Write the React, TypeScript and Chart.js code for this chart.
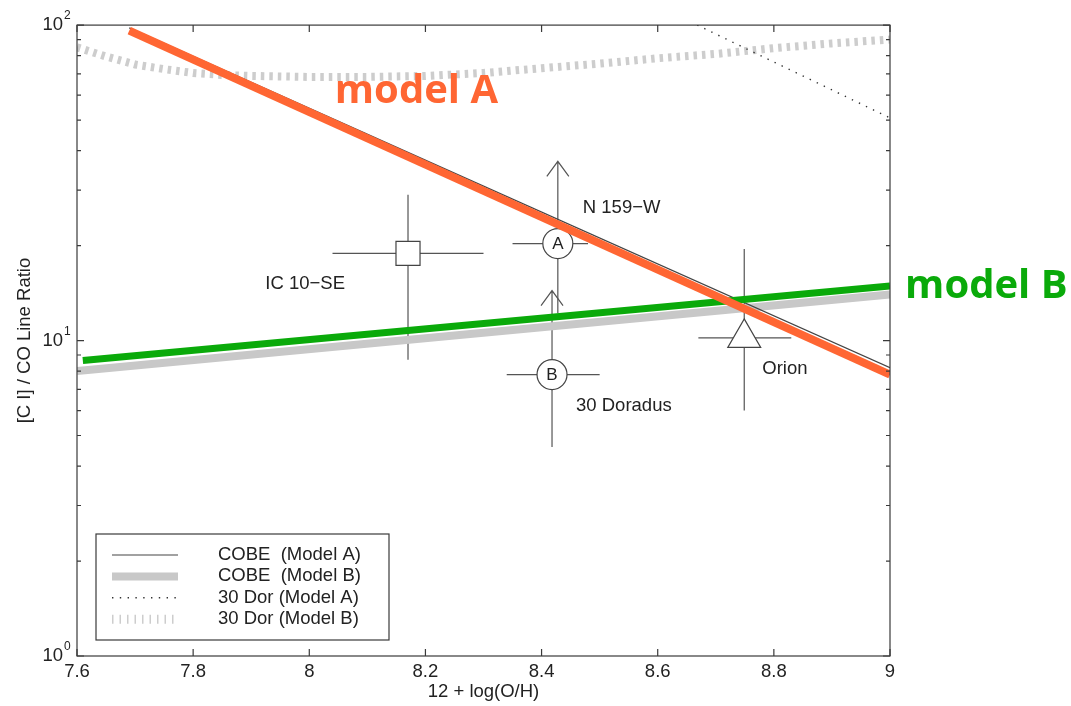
import React, { useEffect, useRef } from 'react';
import { Chart, registerables } from 'chart.js';

Chart.register(...registerables);

// ---------- data ----------
const X_TICKS = [7.6, 7.8, 8, 8.2, 8.4, 8.6, 8.8, 9];
const Y_MAJOR = [1, 10, 100];
const Y_EXPONENTS = ['0', '1', '2'];
const Y_MINOR = [2, 3, 4, 5, 6, 7, 8, 9, 20, 30, 40, 50, 60, 70, 80, 90];

const cobeA_x = [7.69, 9.0];
const cobeA_y = [98, 8.2];
const cobeB_x = [7.6, 9.0];
const cobeB_y = [8.0, 14.0];
const dorA_x = [8.668, 9.0];
const dorA_y = [100, 50.8];
const dorB_x = [7.6, 7.65, 7.7, 7.75, 7.8, 7.85, 7.9, 8.0, 8.1, 8.2, 8.3, 8.4, 8.5, 8.6, 8.7, 8.8, 8.9, 9.0];
const dorB_y = [85, 79.5, 75, 72.5, 70.5, 69.5, 69, 68.5, 68.5, 69, 70.5, 73, 75.5, 78.5, 81, 84.5, 87.5, 90];
const modelA_x = [7.69, 9.0];
const modelA_y = [96, 7.8];
const modelB_x = [7.61, 9.0];
const modelB_y = [8.65, 14.9];

const sourceNames = ['IC 10\u2212SE', 'N 159\u2212W', '30 Doradus', 'Orion'];
const sourceLetters = ['', 'A', 'B', ''];
const sourceX = [8.17, 8.428, 8.418, 8.749];
const sourceY = [18.9, 20.3, 7.8, 10.2];
const sourceXLo = [8.04, 8.35, 8.34, 8.67];
const sourceXHi = [8.30, 8.48, 8.50, 8.83];
const sourceYLo = [8.7, 12.2, 4.6, 6.0];
const sourceYHi = [29, 37, 14.4, 19.5];
const sourceUpperLimit = [false, true, true, false];

// ---------- styles ----------
const FONT = '"Liberation Sans", Arial, sans-serif';
const TEXT = '#222';
const AXIS = '#3a3a3a';
const ORANGE = '#ff6633';
const GREEN = '#0aaa0a';
const markerStyles = ['rect', 'circle', 'circle', 'triangle'];
const markerRadius = [17, 15, 15, 19];
// label placement relative to marker: [dx, dy, align]
const labelOffsets: [number, number, CanvasTextAlign][] = [
  [-63, 31, 'right'],
  [25, -36, 'left'],
  [24, 31, 'left'],
  [18, 31, 'left'],
];

const xy = (xs: number[], ys: number[]) => xs.map((x, i) => ({ x, y: ys[i] }));

export default function App() {
  const ref = useRef<HTMLCanvasElement | null>(null);

  useEffect(() => {
    document.body.style.margin = '0';
    const canvas = ref.current;
    if (!canvas) return;

    const lineDs = (label: string, xs: number[], ys: number[], color: string, width: number, dash: number[], order: number, legend: boolean) => ({
      type: 'line' as const,
      label,
      data: xy(xs, ys),
      showLine: true,
      borderColor: color,
      backgroundColor: color,
      borderWidth: width,
      borderDash: dash,
      pointRadius: 0,
      fill: false,
      tension: 0,
      order,
      inLegend: legend,
    });

    const datasets: any[] = [
      lineDs('COBE  (Model A)', cobeA_x, cobeA_y, '#444', 1.2, [], 3, true),
      lineDs('COBE  (Model B)', cobeB_x, cobeB_y, '#c8c8c8', 8, [], 4, true),
      lineDs('30 Dor (Model A)', dorA_x, dorA_y, '#333', 1.4, [1.4, 6.4], 5, true),
      lineDs('30 Dor (Model B)', dorB_x, dorB_y, '#cdcdcd', 8, [3.5, 5], 6, true),
      lineDs('model A', modelA_x, modelA_y, ORANGE, 8, [], 0, false),
      lineDs('model B', modelB_x, modelB_y, GREEN, 7, [], 1, false),
    ];
    sourceNames.forEach((name, i) => {
      datasets.push({
        type: 'scatter',
        label: name,
        data: [{ x: sourceX[i], y: sourceY[i] }],
        showLine: false,
        pointStyle: markerStyles[i],
        pointRadius: markerRadius[i],
        pointBackgroundColor: '#fff',
        pointBorderColor: '#444',
        pointBorderWidth: 1.2,
        order: 2,
      });
    });

    const decor = {
      id: 'decor',
      beforeDatasetsDraw(chart: any) {
        const { ctx, scales } = chart;
        const xs = scales.x, ys = scales.y;
        ctx.save();
        ctx.strokeStyle = '#555';
        ctx.lineWidth = 1.2;
        sourceNames.forEach((_, i) => {
          const px = xs.getPixelForValue(sourceX[i]);
          const py = ys.getPixelForValue(sourceY[i]);
          const x0 = xs.getPixelForValue(sourceXLo[i]);
          const x1 = xs.getPixelForValue(sourceXHi[i]);
          const y0 = ys.getPixelForValue(sourceYLo[i]);
          const y1 = ys.getPixelForValue(sourceYHi[i]);
          ctx.beginPath();
          ctx.moveTo(x0, py); ctx.lineTo(x1, py);
          ctx.moveTo(px, y0); ctx.lineTo(px, y1);
          if (sourceUpperLimit[i]) {
            ctx.moveTo(px - 11, y1 + 15); ctx.lineTo(px, y1); ctx.lineTo(px + 11, y1 + 15);
          }
          ctx.stroke();
        });
        ctx.restore();
      },
      afterDatasetsDraw(chart: any) {
        const { ctx, scales } = chart;
        const xs = scales.x, ys = scales.y;
        ctx.save();
        sourceNames.forEach((name, i) => {
          const px = xs.getPixelForValue(sourceX[i]);
          const py = ys.getPixelForValue(sourceY[i]);
          ctx.fillStyle = TEXT;
          ctx.textBaseline = 'middle';
          if (sourceLetters[i]) {
            ctx.font = `17px ${FONT}`;
            ctx.textAlign = 'center';
            ctx.fillText(sourceLetters[i], px, py + 1);
          }
          const [dx, dy, al] = labelOffsets[i];
          ctx.font = `18.5px ${FONT}`;
          ctx.textAlign = al;
          ctx.fillText(name, px + dx, py + dy);
        });
        ctx.restore();
      },
      afterDraw(chart: any) {
        const { ctx, chartArea: a, scales } = chart;
        const xs = scales.x, ys = scales.y;
        ctx.save();
        // frame
        ctx.strokeStyle = AXIS;
        ctx.lineWidth = 1.2;
        ctx.strokeRect(a.left, a.top, a.right - a.left, a.bottom - a.top);
        ctx.beginPath();
        X_TICKS.forEach((v) => {
          const x = xs.getPixelForValue(v);
          ctx.moveTo(x, a.bottom); ctx.lineTo(x, a.bottom - 7);
          ctx.moveTo(x, a.top); ctx.lineTo(x, a.top + 7);
        });
        Y_MAJOR.forEach((v) => {
          const y = ys.getPixelForValue(v);
          ctx.moveTo(a.left, y); ctx.lineTo(a.left + 7, y);
          ctx.moveTo(a.right, y); ctx.lineTo(a.right - 7, y);
        });
        Y_MINOR.forEach((v) => {
          const y = ys.getPixelForValue(v);
          ctx.moveTo(a.left, y); ctx.lineTo(a.left + 4, y);
          ctx.moveTo(a.right, y); ctx.lineTo(a.right - 4, y);
        });
        ctx.stroke();
        // exponents
        ctx.fillStyle = TEXT;
        ctx.font = `12px ${FONT}`;
        ctx.textAlign = 'left';
        ctx.textBaseline = 'middle';
        Y_MAJOR.forEach((v, i) => {
          const y = ys.getPixelForValue(v);
          ctx.fillText(Y_EXPONENTS[i], a.left - 13, y - 9);
        });
        // legend
        const lx = 96, ly = 534, lw = 293, lh = 106;
        ctx.fillStyle = '#fff';
        ctx.fillRect(lx, ly, lw, lh);
        ctx.strokeStyle = AXIS;
        ctx.lineWidth = 1.2;
        ctx.strokeRect(lx, ly, lw, lh);
        const items = chart.data.datasets.filter((d: any) => d.inLegend);
        items.forEach((d: any, i: number) => {
          const y = 555 + i * 21.4;
          ctx.save();
          ctx.strokeStyle = d.borderColor;
          ctx.lineWidth = i === 3 ? 9 : d.borderWidth;
          ctx.setLineDash(i === 3 ? [1.5, 6] : d.borderDash);
          ctx.beginPath();
          ctx.moveTo(112, y); ctx.lineTo(178, y);
          ctx.stroke();
          ctx.restore();
          ctx.fillStyle = TEXT;
          ctx.font = `18.5px ${FONT}`;
          ctx.textAlign = 'left';
          ctx.textBaseline = 'middle';
          ctx.fillText(d.label, 218, y);
        });
        // model annotations
        ctx.font = `bold 40px "Open Sans", sans-serif`;
        ctx.textBaseline = 'alphabetic';
        ctx.textAlign = 'left';
        ctx.fillStyle = ORANGE;
        ctx.fillText('model A', xs.getPixelForValue(8.044), ys.getPixelForValue(56.6));
        ctx.fillStyle = GREEN;
        ctx.fillText('model B', xs.getPixelForValue(9.026), ys.getPixelForValue(13.6));
        ctx.restore();
      },
    };

    const chart = new Chart(canvas, {
      type: 'scatter',
      data: { datasets },
      options: {
        animation: false,
        responsive: false,
        events: [],
        layout: { padding: { left: 0, right: 181, top: 24, bottom: 0 } },
        plugins: { legend: { display: false }, tooltip: { enabled: false } },
        scales: {
          x: {
            type: 'linear',
            min: 7.6,
            max: 9,
            grid: { display: false, drawTicks: false },
            border: { display: false },
            afterBuildTicks: (s: any) => { s.ticks = X_TICKS.map((v) => ({ value: v })); },
            afterFit: (s: any) => { s.height = 50; },
            ticks: {
              autoSkip: false,
              maxRotation: 0,
              padding: 5,
              color: TEXT,
              font: { family: FONT, size: 18.5 },
              callback: (v: any) => String(+Number(v).toFixed(1)),
            },
            title: {
              display: true,
              text: '12 + log(O/H)',
              color: TEXT,
              font: { family: FONT, size: 18.5 },
              padding: { top: 0, bottom: 3 },
            },
          },
          y: {
            type: 'logarithmic',
            min: 1,
            max: 100,
            grid: { display: false, drawTicks: false },
            border: { display: false },
            afterBuildTicks: (s: any) => { s.ticks = Y_MAJOR.map((v) => ({ value: v })); },
            afterFit: (s: any) => { s.width = 77; },
            ticks: {
              autoSkip: false,
              padding: 14,
              color: TEXT,
              font: { family: FONT, size: 18.5 },
              callback: () => '10',
            },
            title: {
              display: true,
              text: '[C I] / CO Line Ratio',
              color: TEXT,
              font: { family: FONT, size: 18.5 },
              padding: { top: 14, bottom: 0 },
            },
          },
        },
      } as any,
      plugins: [decor],
    });
    return () => chart.destroy();
  }, []);

  return (
    <div style={{ width: 1071, height: 706, background: '#fff' }}>
      <canvas ref={ref} width={1071} height={706} style={{ display: 'block' }} />
    </div>
  );
}
